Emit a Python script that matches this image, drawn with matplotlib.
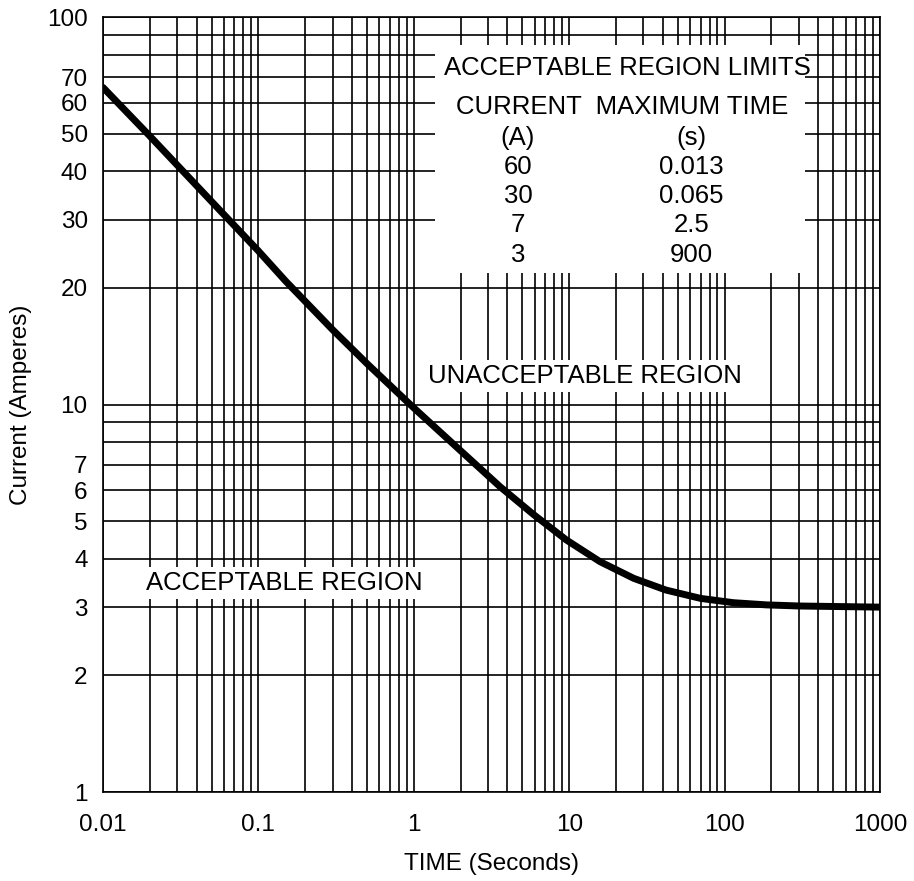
import matplotlib
matplotlib.use("Agg")
import matplotlib.pyplot as plt
from matplotlib.patches import Rectangle

plt.rcParams['font.family'] = ['Liberation Sans', 'DejaVu Sans']

# === DATA ===
# Curve (time in s, current in A)
time_s = [0.01, 0.02, 0.05, 0.1, 0.15, 0.3, 0.5, 1, 2, 3.6, 5.9, 9.6,
          15.8, 26, 42, 70, 114, 187, 305, 1000]
current_a = [65.8, 49.3, 33.4, 24.9, 20.8, 15.6, 12.75, 9.8, 7.6, 6.13, 5.2,
             4.47, 3.93, 3.56, 3.32, 3.16, 3.08, 3.04, 3.02, 3.0]

# Table of acceptable region limits
limit_current = ["60", "30", "7", "3"]
limit_time = ["0.013", "0.065", "2.5", "900"]

# Axis ticks
x_major = [0.01, 0.1, 1, 10, 100, 1000]
x_labels = ["0.01", "0.1", "1", "10", "100", "1000"]
y_major = [1, 2, 3, 4, 5, 6, 7, 10, 20, 30, 40, 50, 60, 70, 100]
y_minor = [8, 9, 80, 90]
x_minor = [m * 10.0 ** e for e in range(-2, 3) for m in range(2, 10)]

# === FIGURE ===
fig = plt.figure(figsize=(9.14, 8.81), dpi=100)
ax = fig.add_axes([0.1127, 0.101, 0.8501, 0.8797])

ax.set_xscale('log')
ax.set_yscale('log')
ax.set_xlim(0.01, 1000)
ax.set_ylim(1, 100)

ax.set_xticks(x_major)
ax.set_xticklabels(x_labels)
ax.set_xticks(x_minor, minor=True)
ax.set_xticklabels([], minor=True)
ax.set_yticks(y_major)
ax.set_yticklabels([str(v) for v in y_major])
ax.set_yticks(y_minor, minor=True)
ax.set_yticklabels([], minor=True)

ax.grid(True, which='both', color='black', linewidth=1.2)
ax.tick_params(which='both', length=0, labelsize=17.5)
ax.tick_params(axis='x', pad=16)
ax.tick_params(axis='y', pad=11)
for sp in ax.spines.values():
    sp.set_linewidth(1.2)

ax.plot(time_s, current_a, color='black', linewidth=5,
        solid_capstyle='round', solid_joinstyle='round', zorder=4)

ax.set_xlabel('TIME (Seconds)', fontsize=17.5, labelpad=12)
ax.set_ylabel('Current (Amperes)', fontsize=17.5, labelpad=11)

# Table box (white background hides the grid)
ax.add_patch(Rectangle((0.4273, 0.6697), 0.4762, 0.2942, transform=ax.transAxes,
                       facecolor='white', edgecolor='none', zorder=2))
fs = 18.5
ax.text(0.6744, 0.9342, 'ACCEPTABLE REGION LIMITS', transform=ax.transAxes,
        ha='center', va='center', fontsize=fs, zorder=3)
ax.text(0.668, 0.8843, 'CURRENT  MAXIMUM TIME', transform=ax.transAxes,
        ha='center', va='center', fontsize=fs, zorder=3)
ax.text(0.534, 0.8443, '(A)', transform=ax.transAxes,
        ha='center', va='center', fontsize=fs, zorder=3)
ax.text(0.7577, 0.8443, '(s)', transform=ax.transAxes,
        ha='center', va='center', fontsize=fs, zorder=3)
row_y = 0.8068
for cur, t in zip(limit_current, limit_time):
    ax.text(0.534, row_y, cur, transform=ax.transAxes,
            ha='center', va='center', fontsize=fs, zorder=3)
    ax.text(0.7577, row_y, t, transform=ax.transAxes,
            ha='center', va='center', fontsize=fs, zorder=3)
    row_y -= 0.0379

box = dict(facecolor='white', edgecolor='none', pad=3)
ax.text(0.6203, 0.5368, 'UNACCEPTABLE REGION', transform=ax.transAxes,
        ha='center', va='center', fontsize=fs, bbox=box, zorder=3)
ax.text(0.233, 0.270, 'ACCEPTABLE REGION', transform=ax.transAxes,
        ha='center', va='center', fontsize=fs, bbox=box, zorder=3)

fig.savefig('out.png', dpi=100, facecolor='white')
